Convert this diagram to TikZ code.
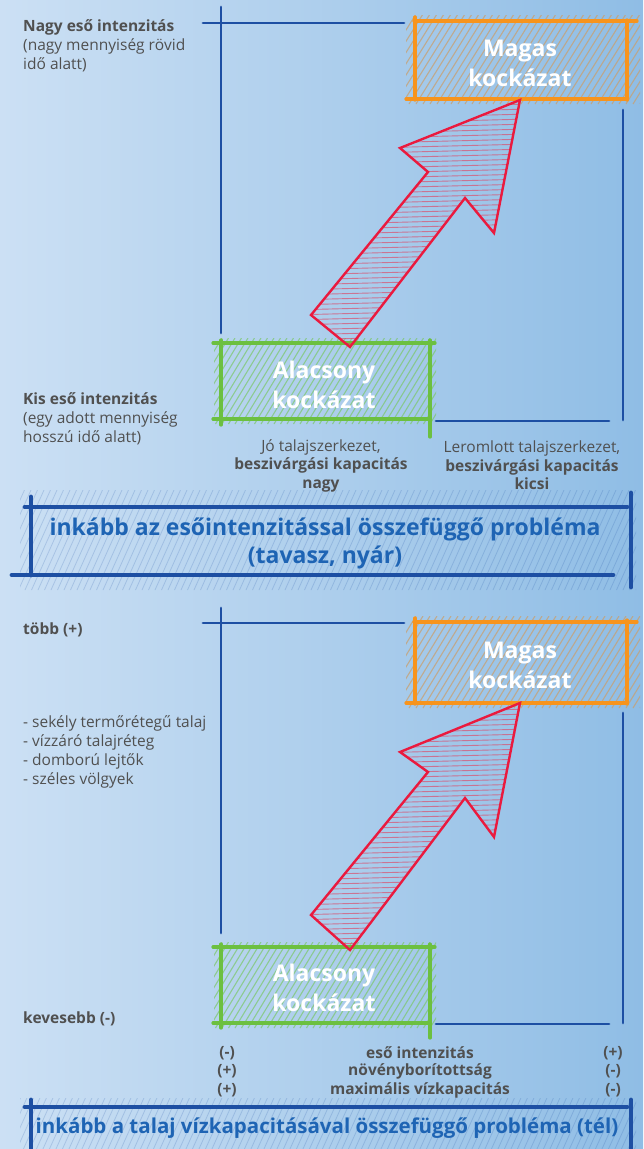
\documentclass[tikz,border=0pt]{standalone}
\usepackage{fontspec}
\setmainfont{Open Sans}
\definecolor{bgL}{HTML}{CCE0F4}
\definecolor{bgR}{HTML}{8FBDE5}
\definecolor{axblue}{HTML}{1D4FA3}
\definecolor{bnblue}{HTML}{1E64B4}
\definecolor{orng}{HTML}{F7941D}
\definecolor{hatchO}{HTML}{C9A070}
\definecolor{grn}{HTML}{6CC040}
\definecolor{hatchG}{HTML}{7CC86A}
\definecolor{rd}{HTML}{EA1A3E}
\definecolor{hatchR}{HTML}{D9506E}
\definecolor{txtgray}{HTML}{505050}
\begin{document}
\begin{tikzpicture}[x=1pt,y=-1pt,
  axis/.style={draw=axblue,line width=2.8pt,line cap=round},
  oedge/.style={draw=orng,line width=3.2pt,line cap=round},
  gedge/.style={draw=grn,line width=3.2pt,line cap=round},
  bedge/.style={draw=axblue,line width=4.8pt,line cap=round},
  redarrow/.style={draw=rd,line width=2.4pt,line join=miter},
  ohatch/.style={draw=hatchO,line width=1.1pt,opacity=0.75},
  ghatch/.style={draw=hatchG,line width=1.1pt,opacity=0.7},
  rhatch/.style={draw=hatchR,line width=0.9pt,opacity=0.7},
  bhatch/.style={draw=axblue,line width=0.8pt,opacity=0.18},
  risk/.style={text=white,font=\fontsize{23}{30}\selectfont\bfseries,align=center,inner sep=0pt},
  side/.style={text=txtgray,font=\fontsize{15.5}{19}\selectfont,align=left,anchor=west,inner sep=0pt},
  captxt/.style={text=txtgray,font=\fontsize{15.5}{18.5}\selectfont,align=center,inner sep=0pt},
  tbl/.style={text=txtgray,font=\fontsize{15.5}{18}\selectfont\bfseries,inner sep=0pt},
  banner/.style={text=bnblue,font=\fontsize{23}{28}\selectfont\bfseries,align=center,inner sep=0pt}
]
\useasboundingbox (0,0) rectangle (643,1149);
\shade[left color=bgL,right color=bgR] (0,0) rectangle (643,1149);

% ================= TOP PANEL =================
\begin{scope}
  \clip (406,15) rectangle (640,104);
  \foreach \i in {0,...,42} {\draw[ohatch] (360+\i*7,104) -- ++(56,-90);}
\end{scope}
\begin{scope}
  \clip (214,338) rectangle (436,424);
  \foreach \i in {0,...,45} {\draw[ghatch] (170+\i*6.5,424) -- ++(52,-86);}
\end{scope}
\begin{scope}
  \clip (20,490) rectangle (636,590);
  \foreach \i in {0,...,110} {\draw[bhatch] (-40+\i*6.5,590) -- ++(45,-100);}
\end{scope}

\draw[axis] (221,7) -- (221,333);
\draw[axis] (203,23) -- (404,23);
\draw[axis] (623,110) -- (623,420);
\draw[axis] (436,421) -- (609,421);

\draw[oedge] (414,21) -- (637,21);
\draw[oedge] (406,99) -- (627,99);
\draw[oedge] (415,17) -- (415,100);
\draw[oedge] (627,20) -- (627,100);
\node[risk] (high1) at (520,63) {Magas\\kockázat};

\draw[gedge] (213,343) -- (435,343);
\draw[gedge] (213,419) -- (430,419);
\draw[gedge] (221,340) -- (221,425);
\draw[gedge] (430,340) -- (430,437);
\node[risk] (low1) at (324,384.5) {Alacsony\\kockázat};

\begin{scope}
  \clip (350,347) -- (311,315) -- (428,172) -- (400,148) -- (520,100) -- (494,233) -- (465,198) -- cycle;
  \foreach \i in {0,...,50} {\draw[rhatch] (290,350-\i*5) -- ++(240,-6);}
\end{scope}
\draw[redarrow] (350,347) -- (311,315) -- (428,172) -- (400,148) -- (520,100) -- (494,233) -- (465,198) -- cycle;

\node[side] (yhi1) at (23,46) {\textbf{Nagy eső intenzitás}\\(nagy mennyiség rövid\\idő alatt)};
\node[side] (ylo1) at (23,418.5) {\textbf{Kis eső intenzitás}\\(egy adott mennyiség\\hosszú idő alatt)};
\node[captxt] (xlo1) at (321,465.5) {Jó talajszerkezet,\\\textbf{beszivárgási kapacitás}\\\textbf{nagy}};
\node[captxt] (xhi1) at (532,465.5) {Leromlott talajszerkezet,\\\textbf{beszivárgási kapacitás}\\\textbf{kicsi}};

\draw[bedge] (25,507) -- (627,507);
\draw[bedge] (31,497) -- (31,575);
\draw[bedge] (12,575) -- (613,575);
\draw[bedge] (631,493) -- (631,587);
\node[banner] (ban1) at (325,543) {inkább az esőintenzitással összefüggő probléma\\(tavasz, nyár)};

% ================= BOTTOM PANEL =================
\begin{scope}
  \clip (406,616) rectangle (640,708);
  \foreach \i in {0,...,42} {\draw[ohatch] (360+\i*7,708) -- ++(56,-92);}
\end{scope}
\begin{scope}
  \clip (214,942) rectangle (436,1028);
  \foreach \i in {0,...,45} {\draw[ghatch] (170+\i*6.5,1028) -- ++(52,-86);}
\end{scope}
\begin{scope}
  \clip (20,1098) rectangle (636,1149);
  \foreach \i in {0,...,110} {\draw[bhatch] (-40+\i*6.5,1160) -- ++(36,-80);}
\end{scope}

\draw[axis] (221,608) -- (221,933);
\draw[axis] (203,623) -- (404,623);
\draw[axis] (623,713) -- (623,1023);
\draw[axis] (436,1024) -- (609,1024);

\draw[oedge] (414,622) -- (637,622);
\draw[oedge] (406,703) -- (627,703);
\draw[oedge] (415,618) -- (415,704);
\draw[oedge] (627,620) -- (627,704);
\node[risk] (high2) at (520,665) {Magas\\kockázat};

\draw[gedge] (213,947) -- (435,947);
\draw[gedge] (213,1023) -- (430,1023);
\draw[gedge] (221,944) -- (221,1028);
\draw[gedge] (430,944) -- (430,1038);
\node[risk] (low2) at (324,987.5) {Alacsony\\kockázat};

\begin{scope}
  \clip (350,950) -- (311,915) -- (428,772) -- (400,752) -- (520,703) -- (494,837) -- (465,798) -- cycle;
  \foreach \i in {0,...,52} {\draw[rhatch] (290,955-\i*5) -- ++(240,-6);}
\end{scope}
\draw[redarrow] (350,950) -- (311,915) -- (428,772) -- (400,752) -- (520,703) -- (494,837) -- (465,798) -- cycle;

\node[side,font=\fontsize{15.5}{19}\selectfont\bfseries] (yhi2) at (23,630) {több (+)};
\node[side] (list2) at (23,752) {- sekély termőrétegű talaj\\- vízzáró talajréteg\\- domború lejtők\\- széles völgyek};
\node[side,font=\fontsize{15.5}{19}\selectfont\bfseries] (ylo2) at (23,1019) {kevesebb (-)};

\node[tbl] (r1a) at (227,1053) {(-)};
\node[tbl] (r1b) at (420,1053) {eső intenzitás};
\node[tbl] (r1c) at (613,1053) {(+)};
\node[tbl] (r2a) at (227,1071) {(+)};
\node[tbl] (r2b) at (420,1071) {növényborítottság};
\node[tbl] (r2c) at (613,1071) {(-)};
\node[tbl] (r3a) at (227,1090) {(+)};
\node[tbl] (r3b) at (420,1090) {maximális vízkapacitás};
\node[tbl] (r3c) at (613,1090) {(-)};

\draw[bedge] (25,1107) -- (627,1107);
\draw[bedge] (31,1100) -- (31,1152);
\draw[bedge] (631,1100) -- (631,1152);
\node[banner,font=\fontsize{20.5}{26}\selectfont\bfseries] (ban2) at (327,1128) {inkább a talaj vízkapacitásával összefüggő probléma (tél)};
\end{tikzpicture}
\end{document}
